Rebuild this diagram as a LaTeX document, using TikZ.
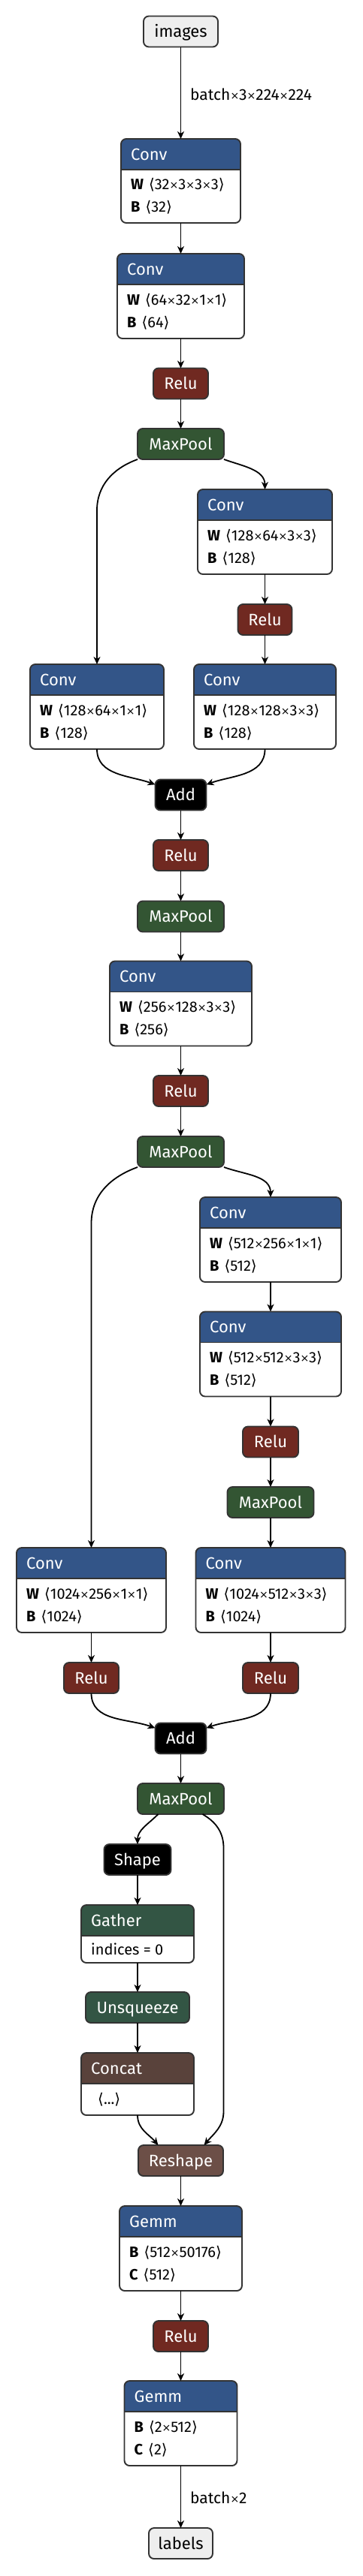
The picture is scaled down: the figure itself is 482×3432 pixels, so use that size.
\documentclass[tikz,border=0pt]{standalone}
\usepackage{fontspec}
\setmainfont{Fira Sans}
\newfontfamily\symf{DejaVu Sans}
\usetikzlibrary{arrows.meta}
\definecolor{layerc}{HTML}{335588}
\definecolor{actc}{HTML}{702921}
\definecolor{poolc}{HTML}{335533}
\definecolor{transc}{HTML}{335544}
\definecolor{tensorc}{HTML}{59423B}
\definecolor{shapec}{HTML}{6C4F47}
\definecolor{ioc}{HTML}{EEEEEE}
\definecolor{borderc}{HTML}{333333}
\newcommand{\la}{{\symf ⟨}}
\newcommand{\ra}{{\symf ⟩}}
\newcommand{\by}{\raisebox{1pt}{\symf\fontsize{14}{14}\selectfont ×}}
\newcommand{\key}[1]{\textbf{#1}\hspace{7pt}}
\tikzset{
  op/.style={draw=borderc, line width=1.9pt, rounded corners=7pt, inner sep=0pt, outer sep=0pt,
    minimum height=41pt, text=white, font=\fontsize{22}{24}\selectfont, text height=15pt, text depth=0pt},
  layer/.style={op, fill=layerc},
  act/.style={op, fill=actc},
  pool/.style={op, fill=poolc},
  trans/.style={op, fill=transc},
  shp/.style={op, fill=shapec},
  plain/.style={op, fill=black},
  io/.style={op, fill=ioc, text=black},
  card/.style={fill=white, rounded corners=7pt, inner sep=0pt, outer sep=0pt},
  title/.style={text=white, font=\fontsize{22}{24}\selectfont, inner sep=0pt, anchor=west},
  attr/.style={text=black, font=\fontsize{20}{30}\selectfont, inner sep=0pt, anchor=west, align=left},
  flow/.style={line width=1.8pt, -{Stealth[length=10pt,width=9pt,inset=3pt]}},
  dims/.style={font=\fontsize{21}{22}\selectfont, inner sep=0pt, anchor=west},
}
% card node: coloured header over a white attribute list
\newcommand{\opcard}[7]{%
  \node[card, minimum width=#3pt, minimum height=#4pt] (#1) at (#2) {};
  \begin{scope}
    \clip[rounded corners=7pt] (#1.south west) rectangle (#1.north east);
    \fill[#5] (#1.north west) rectangle ([yshift=-41pt]#1.north east);
  \end{scope}
  \draw[draw=borderc, line width=1.9pt] ([yshift=-41pt]#1.north west) -- ([yshift=-41pt]#1.north east);
  \draw[draw=borderc, line width=1.9pt, rounded corners=7pt] (#1.south west) rectangle (#1.north east);
  \node[title] (#1-title) at ([xshift=13pt, yshift=-20.5pt]#1.north west) {#6};
  \node[attr] (#1-attr) at ([xshift=13pt, yshift=-20.5pt]#1.west) {#7};
}

\begin{document}
\begin{tikzpicture}[x=1pt, y=-1pt]
\useasboundingbox (0,0) rectangle (482,3432);
\node[io, minimum width=99pt] (images) at (240.5,42) {images};
\node[dims] (dims-in) at (253,126) {batch\by3\by224\by224};
\opcard{conv1}{240.5,241}{159}{112}{layerc}{Conv}{\key{W}\la32\by3\by3\by3\ra\\\key{B}\la32\ra}
\opcard{conv2}{240.5,394.5}{169}{113}{layerc}{Conv}{\key{W}\la64\by32\by1\by1\ra\\\key{B}\la64\ra}
\node[act, minimum width=73pt] (relu1) at (240.5,511) {Relu};
\node[pool, minimum width=115pt] (mp1) at (240.5,591.5) {MaxPool};

\opcard{convR1a}{352.5,708.5}{179}{113}{layerc}{Conv}{\key{W}\la128\by64\by3\by3\ra\\\key{B}\la128\ra}
\node[act, minimum width=72pt] (reluR1) at (352.5,825.5) {Relu};
\opcard{convL1}{129,941.5}{178}{113}{layerc}{Conv}{\key{W}\la128\by64\by1\by1\ra\\\key{B}\la128\ra}
\opcard{convR1b}{352.5,941.5}{189}{113}{layerc}{Conv}{\key{W}\la128\by128\by3\by3\ra\\\key{B}\la128\ra}
\node[plain, minimum width=68pt] (add1) at (240.5,1059) {Add};
\node[act, minimum width=73pt] (relu2) at (240.5,1139.5) {Relu};
\node[pool, minimum width=115pt] (mp2) at (240.5,1221) {MaxPool};
\opcard{conv3}{240.5,1337}{189}{113}{layerc}{Conv}{\key{W}\la256\by128\by3\by3\ra\\\key{B}\la256\ra}
\node[act, minimum width=73pt] (relu3) at (240.5,1453.5) {Relu};
\node[pool, minimum width=115pt] (mp3) at (240.5,1534.5) {MaxPool};

\opcard{convR2a}{360,1651.5}{188}{113}{layerc}{Conv}{\key{W}\la512\by256\by1\by1\ra\\\key{B}\la512\ra}
\opcard{convR2b}{360,1804}{188}{113}{layerc}{Conv}{\key{W}\la512\by512\by3\by3\ra\\\key{B}\la512\ra}
\node[act, minimum width=74pt] (reluR2) at (360,1921) {Relu};
\node[pool, minimum width=115pt] (mpR) at (360,2001.5) {MaxPool};
\opcard{convL2}{121.5,2118.5}{199}{113}{layerc}{Conv}{\key{W}\la1024\by256\by1\by1\ra\\\key{B}\la1024\ra}
\opcard{convR2c}{360,2118.5}{199}{113}{layerc}{Conv}{\key{W}\la1024\by512\by3\by3\ra\\\key{B}\la1024\ra}
\node[act, minimum width=73pt] (reluL2) at (121.5,2235.5) {Relu};
\node[act, minimum width=74pt] (reluR3) at (360,2235.5) {Relu};
\node[plain, minimum width=68pt] (add2) at (240.5,2316) {Add};
\node[pool, minimum width=115pt] (mp4) at (240.5,2396.5) {MaxPool};

\node[plain, minimum width=89pt] (shape) at (183,2477.5) {Shape};
\opcard{gather}{183,2576.5}{150}{77}{transc}{Gather}{indices = 0}
\node[trans, minimum width=138pt] (unsq) at (183,2674.5) {Unsqueeze};
\opcard{concat}{183,2776.5}{150}{83}{tensorc}{Concat}{\hspace*{9pt}\la...\ra}
\node[shp, minimum width=113pt] (reshape) at (240.5,2878.5) {Reshape};
\opcard{gemm1}{240.5,2995.5}{163}{113}{layerc}{Gemm}{\key{B}\la512\by50176\ra\\\key{C}\la512\ra}
\node[act, minimum width=73pt] (relu4) at (240.5,3112.5) {Relu};
\opcard{gemm2}{240.5,3228.5}{150}{113}{layerc}{Gemm}{\key{B}\la2\by512\ra\\\key{C}\la2\ra}
\node[dims] (dims-out) at (253,3328) {batch\by2};
\node[io, minimum width=85pt] (labels) at (240.5,3388.5) {labels};

\draw[flow] (images) -- (conv1);
\draw[flow] (conv1) -- (conv2);
\draw[flow] (conv2) -- (relu1);
\draw[flow] (relu1) -- (mp1);
\draw[flow] (mp1.south west) to[out=-160,in=90] ([yshift=205pt]convL1.north) -- (convL1.north);
\draw[flow] (mp1.south east) to[out=-20,in=90] (convR1a.north);
\draw[flow] (convR1a) -- (reluR1);
\draw[flow] (reluR1) -- (convR1b);
\draw[flow] (convL1.south) to[out=-90,in=160] (add1.158);
\draw[flow] (convR1b.south) to[out=-90,in=20] (add1.22);
\draw[flow] (add1) -- (relu2);
\draw[flow] (relu2) -- (mp2);
\draw[flow] (mp2) -- (conv3);
\draw[flow] (conv3) -- (relu3);
\draw[flow] (relu3) -- (mp3);
\draw[flow] (mp3.south west) to[out=-160,in=90] ([yshift=432pt]convL2.north) -- (convL2.north);
\draw[flow] (mp3.south east) to[out=-20,in=90] (convR2a.north);
\draw[flow] (convR2a) -- (convR2b);
\draw[flow] (convR2b) -- (reluR2);
\draw[flow] (reluR2) -- (mpR);
\draw[flow] (mpR) -- (convR2c);
\draw[flow] (convL2) -- (reluL2);
\draw[flow] (convR2c) -- (reluR3);
\draw[flow] (reluL2.south) to[out=-90,in=160] (add2.158);
\draw[flow] (reluR3.south) to[out=-90,in=20] (add2.22);
\draw[flow] (add2) -- (mp4);
\draw[flow] ([xshift=-30pt]mp4.south) to[out=-135,in=90] (shape.north);
\draw[flow] ([xshift=29pt]mp4.south) to[out=-30,in=90] ([xshift=57pt,yshift=-45pt]mp4.south)
  -- ([xshift=57pt,yshift=45pt]reshape.north) to[out=-90,in=50] ([xshift=31pt]reshape.north);
\draw[flow] (shape) -- (gather);
\draw[flow] (gather) -- (unsq);
\draw[flow] (unsq) -- (concat);
\draw[flow] (concat.south) to[out=-90,in=130] ([xshift=-30pt]reshape.north);
\draw[flow] (reshape) -- (gemm1);
\draw[flow] (gemm1) -- (relu4);
\draw[flow] (relu4) -- (gemm2);
\draw[flow] (gemm2) -- (labels);
\end{tikzpicture}
\end{document}
